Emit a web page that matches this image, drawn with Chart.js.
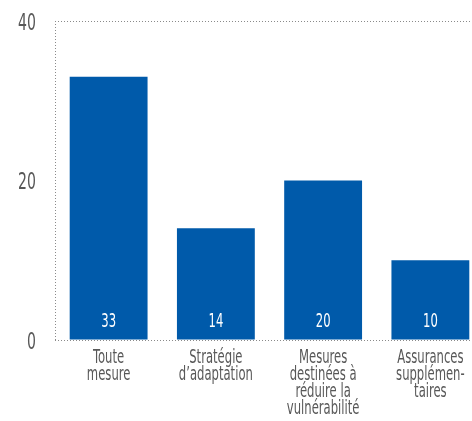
<!DOCTYPE html>
<html>
<head>
<meta charset="utf-8">
<script src="https://cdn.jsdelivr.net/npm/chart.js@4/dist/chart.umd.min.js"></script>
<style>
  html, body { margin: 0; padding: 0; background: #fff; overflow: hidden; }
  #wrap { width: 484px; height: 421px; }
</style>
</head>
<body>
<div id="wrap"><canvas id="chart" width="484" height="421"></canvas></div>
<script>
const categories = [
  ["Toute", "mesure"],
  ["Stratégie", "d’adaptation"],
  ["Mesures", "destinées à", "réduire la", "vulnérabilité"],
  ["Assurances", "supplémen-", "taires"]
];
const values = [33, 14, 20, 10];
const yTicks = [0, 20, 40];

const FONT = "'DejaVu Sans Condensed', 'DejaVu Sans', sans-serif";
const BLUE = "#005AAA";
const GREY = "#585858";
const DOT = "#8a8a8a";
const SQUEEZE = 0.68; // narrow the type like the condensed face of the original

function squeezedText(ctx, text, x, y, size, color, align) {
  ctx.save();
  ctx.font = size + "px " + FONT;
  ctx.fillStyle = color;
  ctx.textAlign = align;
  ctx.translate(x, y);
  ctx.scale(SQUEEZE, 1);
  ctx.fillText(text, 0, 0);
  ctx.restore();
}

// tick labels and the white numbers at the foot of each bar
const textLayer = {
  id: "textLayer",
  afterDraw(chart) {
    const ctx = chart.ctx;
    const xs = chart.scales.x;
    const ys = chart.scales.y;
    ctx.save();
    ctx.textBaseline = "alphabetic";
    yTicks.forEach((v) => {
      squeezedText(ctx, String(v), 36, ys.getPixelForValue(v) + 8.5, 23, GREY, "right");
    });
    categories.forEach((lines, i) => {
      const x = xs.getPixelForValue(i);
      lines.forEach((line, j) => {
        squeezedText(ctx, line, x, 363 + j * 17, 19, GREY, "center");
      });
    });
    const meta = chart.getDatasetMeta(0);
    meta.data.forEach((bar, i) => {
      squeezedText(ctx, String(values[i]), bar.x, bar.base - 13, 19, "#fff", "center");
    });
    ctx.restore();
  }
};

new Chart(document.getElementById("chart"), {
  type: "bar",
  data: {
    labels: categories,
    datasets: [{
      data: values,
      backgroundColor: BLUE,
      categoryPercentage: 1,
      barPercentage: 0.726
    }]
  },
  options: {
    responsive: false,
    animation: false,
    layout: { padding: { top: 21, right: 0, left: 0, bottom: 0 } },
    plugins: { legend: { display: false }, tooltip: { enabled: false } },
    scales: {
      x: {
        offset: true,
        border: { display: false, dash: [1, 2] },
        afterFit: (scale) => { scale.height = 81; },
        grid: {
          offset: true,
          drawTicks: false,
          color: (c) => (c.index === 0 ? DOT : "rgba(0,0,0,0)"),
          lineWidth: 1
        },
        ticks: { display: false }
      },
      y: {
        min: 0,
        max: 40,
        border: { display: false, dash: [1, 2] },
        afterBuildTicks: (scale) => {
          scale.ticks = yTicks.map((v) => ({ value: v }));
        },
        afterFit: (scale) => { scale.width = 55; },
        grid: {
          drawTicks: false,
          color: (c) => (c.tick && (c.tick.value === 0 || c.tick.value === 40) ? DOT : "rgba(0,0,0,0)")
        },
        ticks: { display: false }
      }
    }
  },
  plugins: [textLayer]
});
</script>
</body>
</html>
